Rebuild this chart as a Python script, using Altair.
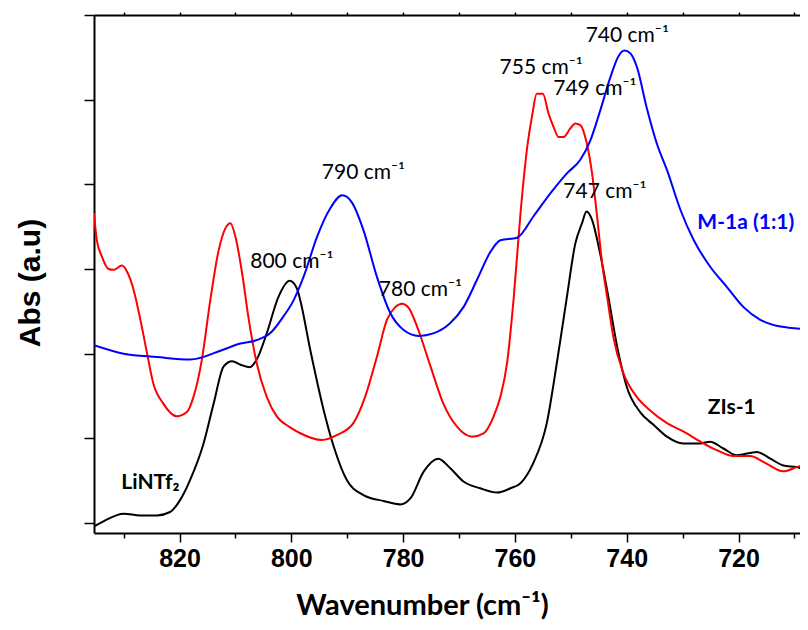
import altair as alt
import pandas as pd

# ---- data ----
black_wn = [835.3, 833.6, 830.0, 827.0, 824.0, 821.7, 819.9, 818.1, 815.7, 813.9, 812.1, 810.6, 809.1, 807.4,
            806.2, 804.4, 802.3, 800.3, 799.0, 798.4, 796.6, 794.2, 792.4, 790.1, 787.1, 783.5, 780.5, 778.7,
            776.3, 773.7, 771.6, 769.2, 766.2, 763.2, 760.8, 759.0, 756.7, 754.3, 752.5, 750.7, 749.2, 748.0,
            747.2, 746.2, 745.0, 743.5, 741.7, 740.0, 737.6, 735.2, 732.8, 729.9, 726.8, 725.1, 722.7, 720.3,
            716.7, 714.3, 712.0, 709.6, 707.5]
black_abs = [-0.04, 0.02, 0.11, 0.09, 0.09, 0.13, 0.27, 0.51, 0.94, 1.41, 1.85, 1.91, 1.87, 1.84,
             1.93, 2.24, 2.67, 2.86, 2.77, 2.63, 2.04, 1.33, 0.90, 0.51, 0.33, 0.26, 0.22, 0.29,
             0.61, 0.76, 0.65, 0.49, 0.41, 0.36, 0.41, 0.47, 0.71, 1.18, 1.89, 2.67, 3.30, 3.54,
             3.68, 3.58, 3.26, 2.75, 2.08, 1.61, 1.31, 1.16, 1.02, 0.94, 0.94, 0.96, 0.88, 0.80,
             0.84, 0.76, 0.68, 0.66, 0.62]

red_wn = [835.3, 834.8, 833.9, 832.7, 831.8, 830.3, 829.4, 828.2, 827.0, 825.8, 824.7, 822.9, 820.5, 818.7,
          817.5, 816.0, 814.5, 813.0, 811.8, 810.9, 810.0, 808.8, 807.7, 806.2, 804.4, 802.6, 800.2, 798.4,
          794.5, 791.8, 788.9, 786.8, 784.7, 782.9, 781.4, 780.2, 779.0, 777.5, 775.1, 772.8, 770.4, 767.7,
          765.6, 763.8, 762.6, 761.4, 760.2, 759.0, 757.8, 756.9, 756.1, 755.0, 754.0, 753.1, 752.2, 751.3,
          750.1, 749.2, 748.3, 747.2, 746.2, 745.3, 744.4, 743.5, 742.4, 740.6, 738.2, 735.8, 732.8, 729.8,
          726.8, 723.9, 720.9, 717.9, 715.5, 712.0, 709.6, 707.5]
red_abs = [3.66, 3.34, 3.15, 3.00, 2.99, 3.04, 2.97, 2.75, 2.40, 2.00, 1.65, 1.41, 1.26, 1.31,
           1.49, 1.93, 2.63, 3.22, 3.48, 3.54, 3.38, 2.95, 2.44, 1.89, 1.49, 1.26, 1.13, 1.06,
           0.98, 1.04, 1.18, 1.49, 1.96, 2.40, 2.55, 2.59, 2.54, 2.32, 1.85, 1.41, 1.14, 1.02,
           1.06, 1.26, 1.49, 1.89, 2.67, 3.66, 4.44, 4.82, 5.07, 5.07, 4.84, 4.68, 4.56, 4.56,
           4.66, 4.72, 4.70, 4.50, 4.13, 3.62, 3.07, 2.67, 2.20, 1.77, 1.49, 1.33, 1.18, 1.08,
           0.96, 0.86, 0.79, 0.79, 0.72, 0.61, 0.66, 0.71]

blue_wn = [835.3, 830.0, 824.0, 818.1, 812.1, 809.1, 806.2, 803.8, 801.4, 799.6, 797.8, 795.4, 793.0, 790.9,
           789.2, 787.1, 784.7, 782.3, 779.9, 777.2, 774.6, 771.6, 769.2, 766.8, 764.4, 762.6, 759.6, 756.7,
           753.7, 750.7, 748.3, 746.5, 744.7, 742.9, 741.5, 740.4, 739.4, 738.2, 736.4, 734.6, 732.8, 730.4,
           728.0, 725.1, 722.1, 719.1, 716.1, 712.5, 707.5]
blue_abs = [2.10, 2.00, 1.96, 1.93, 2.05, 2.12, 2.16, 2.24, 2.44, 2.63, 2.91, 3.38, 3.72, 3.87,
            3.79, 3.46, 2.91, 2.48, 2.28, 2.21, 2.24, 2.36, 2.55, 2.87, 3.20, 3.34, 3.37, 3.62,
            3.89, 4.13, 4.29, 4.52, 4.88, 5.27, 5.51, 5.58, 5.55, 5.39, 4.90, 4.48, 4.17, 3.70,
            3.34, 3.03, 2.79, 2.55, 2.40, 2.32, 2.29]

series_names = ["LiNTf2", "ZIs-1", "M-1a (1:1)"]
series_colors = ["#000000", "#ff0000", "#0000ff"]

peak_text = ["800 cm⁻¹", "790 cm⁻¹", "780 cm⁻¹", "755 cm⁻¹", "749 cm⁻¹", "740 cm⁻¹", "747 cm⁻¹"]
peak_wn = [799.9, 787.1, 776.9, 755.3, 745.7, 739.9, 743.9]
peak_abs = [3.08, 4.13, 2.75, 5.37, 5.13, 5.75, 3.91]

name_text = ["M-1a (1:1)", "ZIs-1", "LiNTf₂"]
name_wn = [718.7, 721.2, 825.2]
name_abs = [3.54, 1.36, 0.47]
name_color = ["#0000ff", "#000000", "#000000"]

x_ticks = [830, 820, 810, 800, 790, 780, 770, 760, 750, 740, 730, 720, 710]
y_ticks = [0, 1, 2, 3, 4, 5, 6]

# ---- tables ----
lines_df = pd.concat([
    pd.DataFrame({"wn": black_wn, "abs": black_abs, "series": series_names[0]}),
    pd.DataFrame({"wn": red_wn, "abs": red_abs, "series": series_names[1]}),
    pd.DataFrame({"wn": blue_wn, "abs": blue_abs, "series": series_names[2]}),
], ignore_index=True)
peaks_df = pd.DataFrame({"wn": peak_wn, "abs": peak_abs, "label": peak_text})
names_df = pd.DataFrame({"wn": name_wn, "abs": name_abs, "label": name_text, "color": name_color})

xscale = alt.Scale(domain=[709.0, 835.3], reverse=True, nice=False, zero=False)
yscale = alt.Scale(domain=[-0.118, 6.0], nice=False, zero=False)

lines = alt.Chart(lines_df).mark_line(strokeWidth=2, interpolate="monotone", clip=True).encode(
    x=alt.X("wn:Q", scale=xscale, axis=alt.Axis(
        orient="bottom", values=x_ticks,
        labelExpr="datum.value % 20 === 0 ? datum.label : ''",
        tickSize={"condition": {"test": "datum.value % 20 === 0", "value": 9}, "value": 5},
        tickWidth=1.5, tickColor="black", domainWidth=2, domainColor="black",
        labelFont="Liberation Sans", labelFontSize=25,
        labelFontWeight="bold", labelColor="black", labelPadding=4, labelFlush=False, labelOverlap=False,
        grid=False,
        title="Wavenumber (cm⁻¹)", titleFont="Lato", titleFontSize=29, titleFontWeight="bold",
        titleColor="black", titleX=328, titleY=72, titleAlign="center", titleBaseline="middle")),
    y=alt.Y("abs:Q", scale=yscale, axis=alt.Axis(
        orient="left", values=y_ticks, labels=False, tickSize=10, tickWidth=1.5, tickColor="black",
        domainWidth=2, domainColor="black", grid=False,
        title="Abs (a.u)", titleFont="Liberation Sans",
        titleFontSize=30, titleFontWeight="bold", titleColor="black", titleAngle=270,
        titleX=-64, titleY=267.5, titleAlign="center", titleBaseline="middle")),
    color=alt.Color("series:N", scale=alt.Scale(domain=series_names, range=series_colors), legend=None),
    detail="series:N",
)

peaks = alt.Chart(peaks_df).mark_text(font="Lato", fontSize=21, color="black",
                                      align="center", baseline="middle").encode(
    x=alt.X("wn:Q", scale=xscale, axis=alt.Axis(
        orient="top", values=x_ticks, labels=False, tickSize=3, tickWidth=1.5, tickColor="black",
        domainWidth=2, domainColor="black", grid=False, title="")),
    y=alt.Y("abs:Q", scale=yscale, axis=None),
    text="label:N",
)

names = alt.Chart(names_df).mark_text(font="Lato", fontSize=21, fontWeight="bold",
                                      align="center", baseline="middle").encode(
    x=alt.X("wn:Q", scale=xscale, axis=None),
    y=alt.Y("abs:Q", scale=yscale, axis=None),
    text="label:N",
    color=alt.Color("color:N", scale=None),
)

chart = alt.layer(lines, peaks, names).resolve_axis(x="independent", y="independent").properties(
    width=706, height=518,
    autosize=alt.AutoSizeParams(type="none"),
    padding={"left": 86, "top": 7, "right": 0, "bottom": 88},
    background="white",
).configure_view(strokeWidth=0)

chart.save("out.html", embed_options={"renderer": "svg", "actions": False})
